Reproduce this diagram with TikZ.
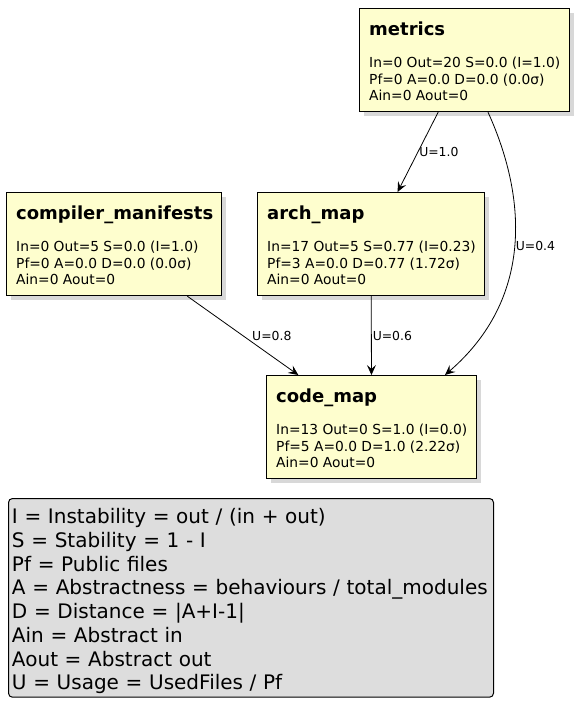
\documentclass[tikz,border=0pt]{standalone}
\usepackage{fontspec}
\setmainfont{DejaVu Sans}
\usetikzlibrary{arrows.meta,shadows}
\definecolor{cream}{HTML}{FEFECE}
\definecolor{silver}{HTML}{DDDDDD}
\tikzset{
  modbox/.style={draw=black,line width=1.2pt,fill=cream,anchor=north west,
    minimum height=103pt,inner sep=0pt,
    drop shadow={shadow xshift=4pt,shadow yshift=-4pt,fill=black!30}},
  modtitle/.style={anchor=base west,inner sep=0pt,font=\fontsize{18}{21}\selectfont\bfseries},
  modbody/.style={anchor=north west,inner sep=0pt,align=left,font=\fontsize{13.8}{16.5}\selectfont},
  uses/.style={draw,line width=0.8pt,-{Stealth[length=10pt,width=9pt,inset=4pt]}},
  ulabel/.style={font=\fontsize{12.4}{14}\selectfont,inner sep=1pt},
  legendbox/.style={draw=black,line width=1pt,fill=silver,rounded corners=4pt,anchor=north west,
    minimum width=485pt,minimum height=196pt,text width=478pt,inner xsep=3.5pt,align=left,
    font=\fontsize{20}{23.7}\selectfont}
}
\begin{document}
\begin{tikzpicture}[x=1pt,y=-1pt]
  \useasboundingbox (0,0) rectangle (578,704);
  % modules
  \foreach \n/\x/\y/\w/\t/\a/\b in {
    metrics/359/8/210/metrics/{In=0 Out=20 S=0.0 (I=1.0)}/{Pf=0 A=0.0 D=0.0 (0.0σ)},
    compiler/6/192/215/compiler\_manifests/{In=0 Out=5 S=0.0 (I=1.0)}/{Pf=0 A=0.0 D=0.0 (0.0σ)},
    archmap/257/192/227/arch\_map/{In=17 Out=5 S=0.77 (I=0.23)}/{Pf=3 A=0.0 D=0.77 (1.72σ)},
    codemap/266/375/210/code\_map/{In=13 Out=0 S=1.0 (I=0.0)}/{Pf=5 A=0.0 D=1.0 (2.22σ)}}{
    \node[modbox,minimum width=\w pt] (\n) at (\x,\y) {};
    \node[modtitle] (\n-title) at ([xshift=10pt,yshift=-27.5pt]\n.north west) {\t};
    \node[modbody] (\n-body) at ([xshift=10pt,yshift=-49pt]\n.north west) {\a\\\b\\Ain=0 Aout=0};
  }
  % usage
  \draw[uses] (metrics) -- node[ulabel,right] {U=1.0} (archmap);
  \draw[uses] ([xshift=129pt]metrics.south west) .. controls (528,200) and (532,300) ..
    node[ulabel,right,pos=0.49] {U=0.4} ([xshift=179pt]codemap.north west);
  \draw[uses] (compiler) -- node[ulabel,right=8pt] {U=0.8} (codemap);
  \draw[uses] (archmap) -- node[ulabel,right] {U=0.6} (codemap);
  % legend
  \node[legendbox] (legend) at (8,498) {\rule{0pt}{22pt}I = Instability = out / (in + out)\\
    S = Stability = 1 - I\\
    Pf = Public files\\
    A = Abstractness = behaviours / total\_modules\\
    D = Distance = |A+I-1|\\
    Ain = Abstract in\\
    Aout = Abstract out\\
    U = Usage = UsedFiles / Pf};
\end{tikzpicture}
\end{document}
